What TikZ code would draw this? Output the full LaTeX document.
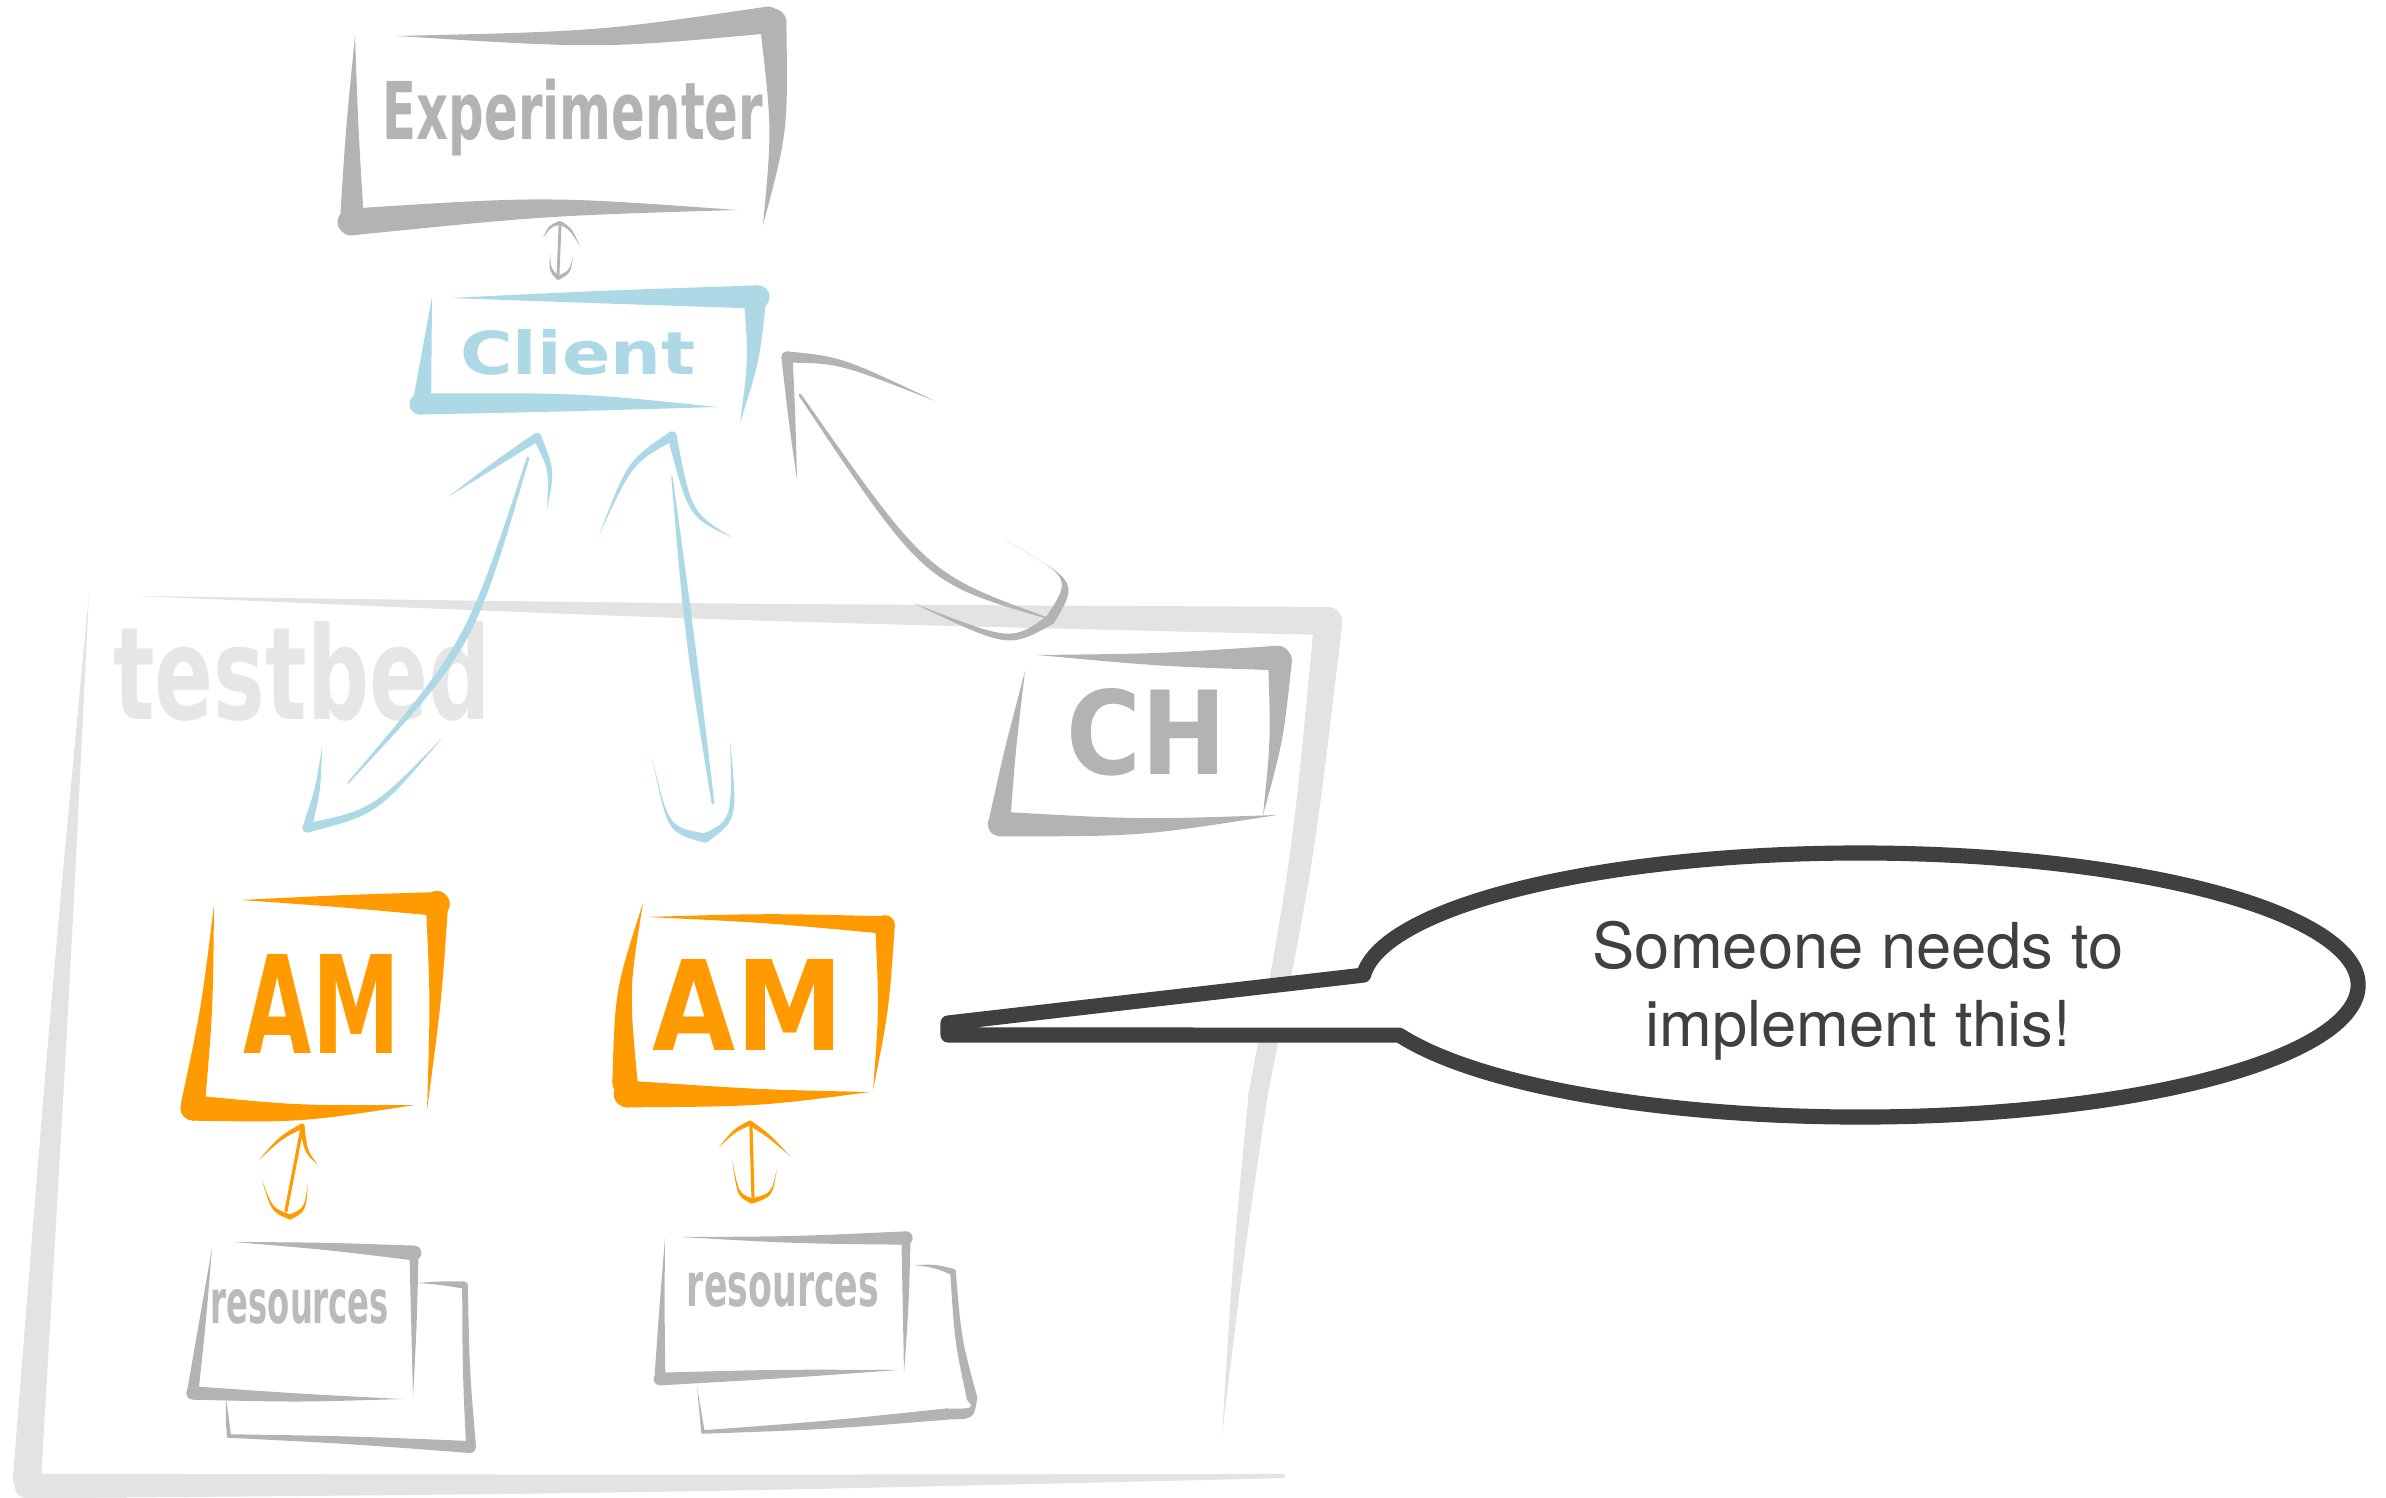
\documentclass[tikz,border=0pt]{standalone}
\usepackage{fontspec}
\setmainfont{TeX Gyre Heros}
\newfontfamily\handfont{DejaVu Sans}
\usepackage{graphicx}
\usetikzlibrary{calc}
\definecolor{gbox}{HTML}{B3B3B3}
\definecolor{gtext}{HTML}{B3B3B3}
\definecolor{rtext}{HTML}{BABABA}
\definecolor{tbgray}{HTML}{E3E3E3}
\definecolor{tbtext}{HTML}{E6E6E6}
\definecolor{sblue}{HTML}{ADD8E6}
\definecolor{sorange}{HTML}{FF9A00}
\definecolor{callgray}{HTML}{404040}
% tapered brush stroke: colour, start, control, end, half widths at start, middle, end
\newcommand\brush[7]{%
  \fill[#1] ($#2!#5!90:#3$) .. controls ($#3!#6!90:#4$) .. ($#4!#7!-90:#3$)
     -- ($#4!#7!90:#3$) .. controls ($#3!#6!-90:#4$) .. ($#2!#5!-90:#3$) -- cycle;
  \fill[#1] #2 circle[radius=#5];
  \fill[#1] #4 circle[radius=#7];
}
\begin{document}
\begin{tikzpicture}[x=0.01cm,y=-0.01cm,
  hand/.style={inner sep=0pt, font=\handfont\bfseries},
  callout/.style={draw=callgray, line width=4.3pt, line join=round, fill=white}]
\useasboundingbox (0,0) rectangle (2386,1498);
\fill[white] (0,0) rectangle (2386,1498);

% ---------------- testbed ----------------
\brush{tbgray}{(138,596)}{(700,612)}{(1328,621)}{0pt}{2.3pt}{4pt}
\brush{tbgray}{(1328,624)}{(1303,860)}{(1258,1095)}{4pt}{3.2pt}{2.7pt}
\brush{tbgray}{(1258,1095)}{(1238,1260)}{(1222,1435)}{2.7pt}{1.5pt}{0pt}
\brush{tbgray}{(89,593)}{(60,1000)}{(27,1478)}{0pt}{2.6pt}{4pt}
\brush{tbgray}{(27,1486)}{(650,1484)}{(1283,1476)}{3.5pt}{2.6pt}{0.6pt}
\node[hand, text=tbtext] (testbed) at (302,671) {\resizebox{3.77cm}{0.98cm}{testbed}};

% ---------------- Experimenter ----------------
\brush{gbox}{(397,36)}{(600,40)}{(768,20)}{0pt}{2.5pt}{3.8pt}
\brush{gbox}{(773,22)}{(780,130)}{(763,225)}{3.8pt}{2.3pt}{0pt}
\brush{gbox}{(355,36)}{(352,130)}{(352,215)}{0pt}{1.8pt}{3.3pt}
\brush{gbox}{(351,222)}{(545,206)}{(737,210)}{3.8pt}{2.8pt}{0pt}
\node[hand, text=gtext] (exp) at (573,118) {\resizebox*{3.8cm}{0.77cm}{Experimenter}};

% ---------------- Client ----------------
\brush{sblue}{(450,298)}{(600,297)}{(758,297)}{0pt}{1.8pt}{3.3pt}
\brush{sblue}{(755,298)}{(754,360)}{(740,423)}{3.2pt}{1.6pt}{0pt}
\brush{sblue}{(432,297)}{(427,350)}{(422,402)}{0pt}{1.2pt}{2.6pt}
\brush{sblue}{(420,404)}{(580,402)}{(717,407)}{3pt}{2.6pt}{0pt}
\node[hand, text=sblue] (client) at (578,352) {\resizebox{2.35cm}{0.45cm}{Client}};

% ---------------- CH ----------------
\brush{gbox}{(1037,655)}{(1160,660)}{(1278,658)}{0pt}{1.8pt}{3.5pt}
\brush{gbox}{(1280,660)}{(1277,740)}{(1263,815)}{3.4pt}{1.8pt}{0pt}
\brush{gbox}{(1025,671)}{(1010,750)}{(1000,818)}{0pt}{1.6pt}{3pt}
\brush{gbox}{(1000,824)}{(1140,828)}{(1277,815)}{3.5pt}{2.4pt}{0pt}
\node[hand, text=gtext] (ch) at (1147,732) {\resizebox{1.6cm}{0.86cm}{CH}};

% ---------------- AM 1 ----------------
\brush{sorange}{(241,900)}{(340,901)}{(438,904)}{0pt}{1.7pt}{3.4pt}
\brush{sorange}{(437,902)}{(436,1000)}{(427,1110)}{3.2pt}{1.6pt}{0pt}
\brush{sorange}{(214,905)}{(207,1010)}{(193,1104)}{0pt}{1.7pt}{3.4pt}
\brush{sorange}{(193,1108)}{(300,1114)}{(415,1105)}{3.6pt}{2.4pt}{0pt}
\node[hand, text=sorange] (am1) at (322,1004) {\resizebox{1.56cm}{0.99cm}{AM}};

% ---------------- AM 2 ----------------
\brush{sorange}{(647,917)}{(765,918)}{(885,925)}{0pt}{1.3pt}{2.5pt}
\brush{sorange}{(885,925)}{(884,1010)}{(873,1090)}{2.8pt}{1.4pt}{0pt}
\brush{sorange}{(643,903)}{(622,990)}{(625,1083)}{0pt}{2pt}{3.6pt}
\brush{sorange}{(627,1094)}{(760,1098)}{(870,1092)}{3.8pt}{2.4pt}{0pt}
\node[hand, text=sorange] (am2) at (748,1005) {\resizebox{1.9cm}{0.91cm}{AM}};

% ---------------- resources 1 ----------------
\brush{gbox}{(418,1283)}{(440,1283)}{(464,1285)}{0pt}{0.5pt}{1pt}
\brush{gbox}{(465,1285)}{(466,1370)}{(471,1446)}{0.8pt}{1pt}{1.4pt}
\brush{gbox}{(229,1436)}{(350,1440)}{(470,1447)}{0.5pt}{1.1pt}{1.7pt}
\brush{gbox}{(226,1398)}{(227,1418)}{(229,1436)}{0pt}{0.4pt}{0.6pt}
\brush{gbox}{(234,1242)}{(325,1246)}{(414,1253)}{0pt}{1pt}{2.1pt}
\brush{gbox}{(414,1252)}{(414,1325)}{(413,1397)}{1.3pt}{0.8pt}{0pt}
\brush{gbox}{(212,1248)}{(203,1320)}{(193,1390)}{0pt}{0.9pt}{1.6pt}
\brush{gbox}{(193,1393)}{(300,1398)}{(402,1399)}{1.9pt}{1.2pt}{0pt}
\node[hand, text=rtext] (res1) at (300,1307) {\resizebox{1.78cm}{0.34cm}{resources}};

% ---------------- resources 2 ----------------
\brush{gbox}{(914,1265)}{(935,1266)}{(953,1272)}{0pt}{0.5pt}{0.9pt}
\brush{gbox}{(953,1272)}{(958,1340)}{(972,1398)}{0.8pt}{1pt}{1.5pt}
\brush{gbox}{(972,1398)}{(974,1414)}{(947,1414)}{1.5pt}{1.5pt}{1.5pt}
\brush{gbox}{(703,1432)}{(830,1425)}{(947,1414)}{0.5pt}{1.2pt}{1.6pt}
\brush{gbox}{(697,1387)}{(700,1410)}{(703,1432)}{0pt}{0.4pt}{0.5pt}
\brush{gbox}{(681,1237)}{(795,1240)}{(906,1238)}{0pt}{1pt}{1.9pt}
\brush{gbox}{(906,1238)}{(906,1305)}{(904,1373)}{1.3pt}{0.8pt}{0pt}
\brush{gbox}{(665,1238)}{(662,1305)}{(660,1374)}{0pt}{0.7pt}{1.5pt}
\brush{gbox}{(660,1379)}{(780,1374)}{(898,1370)}{1.8pt}{1.3pt}{0pt}
\node[hand, text=rtext] (res2) at (783,1290) {\resizebox{1.92cm}{0.34cm}{resources}};

% ---------------- connector ends ----------------
\coordinate (ecA) at (560,223);  \coordinate (ecB) at (558,278);
\coordinate (c1A) at (537,437);  \coordinate (c1B) at (307,828);
\coordinate (c2A) at (672,436);  \coordinate (c2B) at (705,838);
\coordinate (chA) at (787,357);
\coordinate (o1A) at (302,1126); \coordinate (o1B) at (290,1217);
\coordinate (o2A) at (750,1123); \coordinate (o2B) at (752,1201);

% Experimenter <-> Client
\brush{gbox}{(560,226)}{(559,250)}{(558,275)}{0.4pt}{0.5pt}{0.4pt}
\brush{gbox}{(ecA)}{(550,226)}{(543,238)}{0.55pt}{0.4pt}{0pt}
\brush{gbox}{(ecA)}{(570,228)}{(580,246)}{0.55pt}{0.4pt}{0pt}
\brush{gbox}{(550,254)}{(550,270)}{(ecB)}{0pt}{0.4pt}{0.55pt}
\brush{gbox}{(573,256)}{(570,272)}{(ecB)}{0pt}{0.4pt}{0.55pt}

% Client <-> AM 1
\brush{sblue}{(528,458)}{(470,646)}{(348,783)}{0.4pt}{1.4pt}{0.2pt}
\brush{sblue}{(c1A)}{(492,466)}{(448,497)}{1.2pt}{0.7pt}{0pt}
\brush{sblue}{(c1A)}{(552,470)}{(547,510)}{1.2pt}{0.8pt}{0pt}
\brush{sblue}{(322,747)}{(318,790)}{(c1B)}{0pt}{0.8pt}{1.3pt}
\brush{sblue}{(c1B)}{(375,812)}{(443,737)}{1.3pt}{1pt}{0pt}

% Client <-> AM 2
\brush{sblue}{(672,477)}{(690,640)}{(713,803)}{0.2pt}{1.4pt}{0.4pt}
\brush{sblue}{(c2A)}{(630,462)}{(599,535)}{1.3pt}{0.8pt}{0pt}
\brush{sblue}{(c2A)}{(690,515)}{(733,538)}{1.3pt}{0.8pt}{0pt}
\brush{sblue}{(652,757)}{(668,830)}{(c2B)}{0pt}{0.8pt}{1.3pt}
\brush{sblue}{(c2B)}{(735,820)}{(730,740)}{1.3pt}{0.8pt}{0pt}

% Client <-> CH
\brush{gbox}{(800,395)}{(925,578)}{(1047,618)}{0.4pt}{1.4pt}{0.2pt}
\brush{gbox}{(chA)}{(792,420)}{(797,480)}{1.6pt}{1pt}{0pt}
\brush{gbox}{(chA)}{(840,360)}{(935,401)}{1.6pt}{1pt}{0pt}
\brush{gbox}{(1005,540)}{(1075,580)}{(1050,620)}{0pt}{1.1pt}{1.4pt}
\brush{gbox}{(1050,620)}{(1010,645)}{(913,603)}{1.4pt}{1.1pt}{0pt}

% AM 1 <-> resources 1
\brush{sorange}{(302,1128)}{(294,1170)}{(286,1211)}{0.45pt}{0.65pt}{0.45pt}
\brush{sorange}{(o1A)}{(280,1138)}{(259,1160)}{0.7pt}{0.5pt}{0pt}
\brush{sorange}{(o1A)}{(306,1152)}{(318,1165)}{0.7pt}{0.5pt}{0pt}
\brush{sorange}{(262,1180)}{(272,1210)}{(o1B)}{0pt}{0.5pt}{0.7pt}
\brush{sorange}{(308,1183)}{(305,1210)}{(o1B)}{0pt}{0.5pt}{0.7pt}

% AM 2 <-> resources 2
\brush{sorange}{(751,1127)}{(752,1162)}{(753,1198)}{0.45pt}{0.65pt}{0.45pt}
\brush{sorange}{(o2A)}{(735,1130)}{(719,1147)}{0.7pt}{0.5pt}{0pt}
\brush{sorange}{(o2A)}{(768,1135)}{(790,1156)}{0.7pt}{0.5pt}{0pt}
\brush{sorange}{(732,1159)}{(738,1195)}{(o2B)}{0pt}{0.5pt}{0.7pt}
\brush{sorange}{(777,1168)}{(772,1195)}{(o2B)}{0pt}{0.5pt}{0.7pt}

% ---------------- callout ----------------
\coordinate (tipT) at (948,1023);
\coordinate (tipB) at (948,1035);
\draw[callout] (1363.4,975.1) -- (tipT) -- (tipB) -- (1399.3,1035.1)
  arc[start angle=157.7, end angle=-175.7, x radius=498, y radius=132] -- cycle;
\node[inner sep=0pt, align=center, text=callgray,
      font=\fontsize{18}{22.2}\selectfont] (note) at (1858,991)
  {Someone needs to\\implement this!};
\end{tikzpicture}
\end{document}
